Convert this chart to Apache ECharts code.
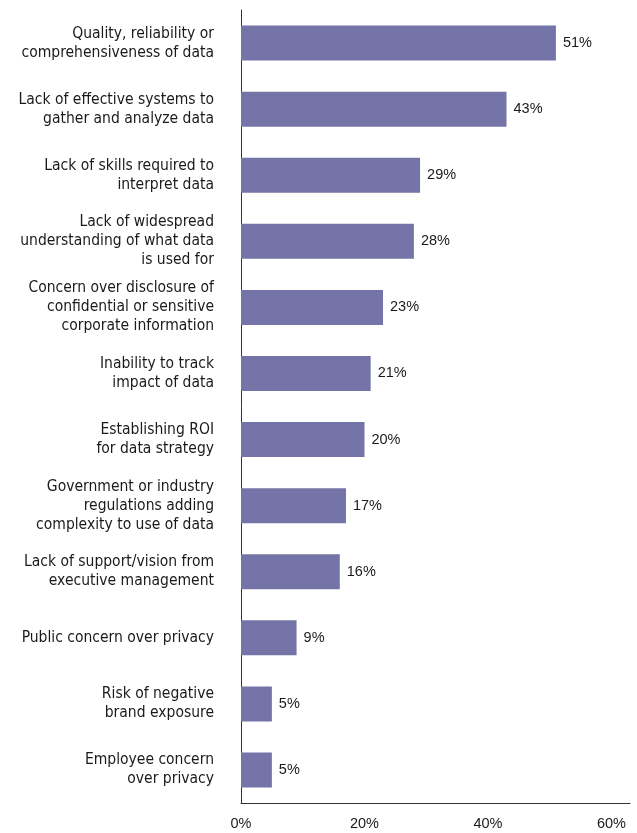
<!DOCTYPE html>
<html>
<head>
<meta charset="utf-8">
<script src="https://cdn.jsdelivr.net/npm/echarts@6/dist/echarts.min.js"></script>
<style>
html,body{margin:0;padding:0;background:#fff;}
#chart{width:637px;height:833px;}
</style>
</head>
<body>
<div id="chart"></div>
<script>
const categories = [
  "Quality, reliability or\ncomprehensiveness of data",
  "Lack of effective systems to\ngather and analyze data",
  "Lack of skills required to\ninterpret data",
  "Lack of widespread\nunderstanding of what data\nis used for",
  "Concern over disclosure of\nconfidential or sensitive\ncorporate information",
  "Inability to track\nimpact of data",
  "Establishing ROI\nfor data strategy",
  "Government or industry\nregulations adding\ncomplexity to use of data",
  "Lack of support/vision from\nexecutive management",
  "Public concern over privacy",
  "Risk of negative\nbrand exposure",
  "Employee concern\nover privacy"
];
const values = [51, 43, 29, 28, 23, 21, 20, 17, 16, 9, 5, 5];
const xTicks = [0, 20, 40, 60];

const chart = echarts.init(document.getElementById('chart'));
chart.setOption({
  animation: false,
  grid: { left: 241, right: 7, top: 10, bottom: 30, containLabel: false },
  xAxis: {
    type: 'value', min: 0, max: 63, interval: 20,
    axisLine: { show: true, lineStyle: { color: '#333', width: 1 } },
    axisTick: { show: false },
    splitLine: { show: false },
    axisLabel: {
      color: '#1a1a1a', fontSize: 14.5, fontFamily: 'Liberation Sans, Arial, sans-serif', margin: 13,
      showMaxLabel: false,
      formatter: v => xTicks.indexOf(v) >= 0 ? v + '%' : ''
    }
  },
  yAxis: {
    type: 'category', inverse: true, data: categories,
    axisLine: { show: true, lineStyle: { color: '#333', width: 1 } },
    axisTick: { show: false },
    axisLabel: {
      color: '#1a1a1a', fontSize: 15.5, lineHeight: 19, margin: 27, align: 'right',
      fontFamily: '"DejaVu Sans Condensed", sans-serif'
    }
  },
  series: [{
    type: 'bar', data: values, barWidth: 35,
    itemStyle: { color: '#7474a8' },
    label: {
      show: true, position: 'right', distance: 7, formatter: '{c}%',
      color: '#1a1a1a', fontSize: 14.5, fontFamily: 'Liberation Sans, Arial, sans-serif'
    }
  }]
});
</script>
</body>
</html>
